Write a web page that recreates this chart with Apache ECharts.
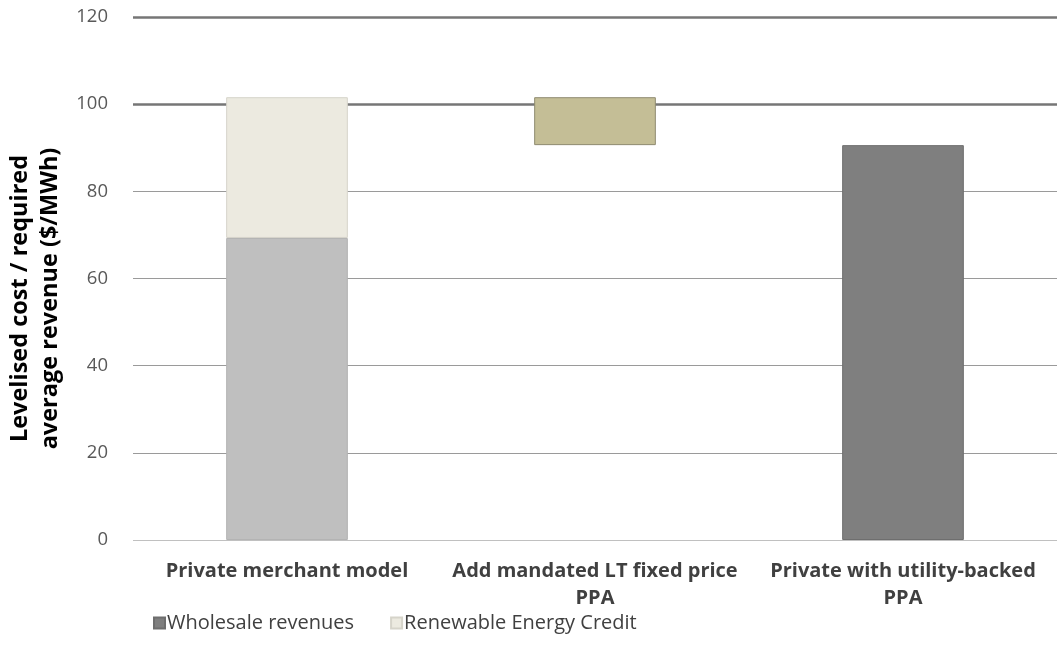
<!DOCTYPE html>
<html><head><meta charset="utf-8">
<script src="https://cdn.jsdelivr.net/npm/echarts@6/dist/echarts.min.js"></script>
<style>html,body{margin:0;padding:0;background:#fff}#c{width:1057px;height:661px}</style>
</head><body><div id="c"></div>
<script>
const categories = ['Private merchant model', 'Add mandated LT fixed price\nPPA', 'Private with utility-backed\nPPA'];
const baseValues = [0, 90.6, 0];
const wholesaleValues = [69.3, null, 90.6];
const recValues = [32.3, null, null];
const ppaStepValues = [null, 11.0, null];
const yTicks = [0, 20, 40, 60, 80, 100, 120];

const chart = echarts.init(document.getElementById('c'), null, {renderer: 'canvas'});
const labelFont = '"Open Sans", "Noto Sans", sans-serif';
const T = 'rgba(0,0,0,0)';
chart.setOption({
  animation: false,
  grid: {left: 133, right: 0, top: 17, bottom: 121, containLabel: false, outerBoundsMode: 'none'},
  legend: {
    data: ['Wholesale revenues', 'Renewable Energy Credit'],
    left: 148, top: 608, itemWidth: 11, itemHeight: 11, itemGap: 36,
    icon: 'rect',
    textStyle: {fontFamily: labelFont, fontSize: 20, color: '#404040', padding: [0, 0, 0, -3]}
  },
  xAxis: {
    type: 'category', data: categories,
    axisLine: {show: false}, axisTick: {show: false},
    axisLabel: {interval: 0, fontFamily: labelFont, fontWeight: 'bold', fontSize: 20, color: '#404040', margin: 18, lineHeight: 27}
  },
  yAxis: [
    {
      type: 'value', min: yTicks[0], max: yTicks[yTicks.length - 1], interval: 20,
      name: 'Levelised cost / required\naverage revenue ($/MWh)',
      nameLocation: 'middle', nameGap: 67, nameRotate: 90,
      nameTextStyle: {fontFamily: labelFont, fontWeight: 'bold', fontSize: 23.5, color: '#000', lineHeight: 30, padding: [0, 40, 0, 0]},
      axisLine: {show: false}, axisTick: {show: false},
      axisLabel: {fontFamily: labelFont, fontSize: 18.5, color: '#595959', margin: 25},
      splitLine: {lineStyle: {color: ['#c0c0c0', '#9a9a9a', '#9a9a9a', '#9a9a9a', '#9a9a9a', T, T], width: 1}}
    },
    {
      type: 'value', min: yTicks[0], max: yTicks[yTicks.length - 1], interval: 20, position: 'left',
      axisLine: {show: false}, axisTick: {show: false}, axisLabel: {show: false},
      splitLine: {show: true, lineStyle: {color: [T, T, T, T, T, '#767676', '#767676'], width: 2.5}}
    }
  ],
  series: [
    {
      name: 'base', type: 'bar', stack: 's', data: baseValues, barWidth: '39.5%', z: 3,
      itemStyle: {color: T}, silent: true
    },
    {
      name: 'Wholesale revenues', type: 'bar', stack: 's', z: 3,
      data: wholesaleValues.map((v, i) => i === 0 ? {value: v, itemStyle: {color: '#bfbfbf', borderColor: '#b3b3b3'}} : v),
      itemStyle: {color: '#7f7f7f', borderColor: '#6e6e6e', borderWidth: 1}
    },
    {
      name: 'Renewable Energy Credit', type: 'bar', stack: 's', z: 3, data: recValues,
      itemStyle: {color: '#eceae0', borderColor: '#d6d4ca', borderWidth: 1}
    },
    {
      name: 'PPA', type: 'bar', stack: 's', z: 3, data: ppaStepValues,
      itemStyle: {color: '#c4be96', borderColor: '#8f8b70', borderWidth: 1}
    }
  ]
});
</script></body></html>
